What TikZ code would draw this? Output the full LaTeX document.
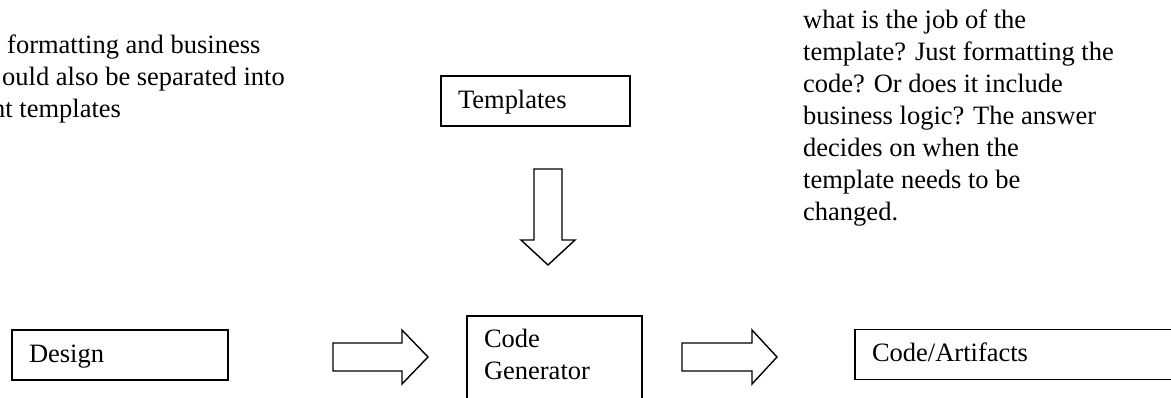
\documentclass[tikz,border=0pt]{standalone}
\usepackage{fontspec}
\setmainfont{Liberation Serif}
\begin{document}
\begin{tikzpicture}[x=1pt,y=-1pt,
  every node/.style={font=\fontsize{26.5pt}{32pt}\selectfont},
  box/.style={draw, line width=1.8pt, rectangle, inner xsep=17pt, inner ysep=0pt,
    align=left, text height=23pt, text depth=8pt, minimum height=50pt},
  note/.style={inner sep=0pt, align=left},
  blockarrow/.style={draw, line width=1.4pt, fill=white, line join=miter}
]
\useasboundingbox (0,0) rectangle (1171,398);
\clip (0,0) rectangle (1171,398);

% process boxes
\node[box, text width=182pt] (design) at (120,355) {Design};
\node[box, text width=155pt] (templates) at (535.5,101) {Templates};
\node[box, text width=141pt, text height=32pt, text depth=72pt] (codegen) at (554.5,368) {Code\\Generator};
\node[box, text width=296pt] (artifacts) at (1020,354.5) {Code/Artifacts};

% comments
\node[note, anchor=base west] (notea) at (7,54) {formatting and business};
\node[note, anchor=base west] (noteb) at (2,86) {ould also be separated into};
\node[note, anchor=base west] (notec) at (-8,118) {nt templates};
\node[note, anchor=north west] (noteright) at (803,10) {what is the job of the\\template? Just formatting the\\code? Or does it include\\business logic? The answer\\decides on when the\\template needs to be\\changed.};

% block arrows
\coordinate (arrA) at (333,357);
\coordinate (arrB) at (682,357);
\coordinate (arrC) at (548,169);
\draw[blockarrow] (arrA) ++(0,-14) -- ++(69,0) -- ++(0,-13) -- ++(26,27)
  -- ++(-26,27) -- ++(0,-13) -- ++(-69,0) -- cycle;
\draw[blockarrow] (arrB) ++(0,-14) -- ++(70,0) -- ++(0,-13) -- ++(25,27)
  -- ++(-25,27) -- ++(0,-13) -- ++(-70,0) -- cycle;
\draw[blockarrow] (arrC) ++(-14,0) -- ++(0,71) -- ++(-13,0) -- ++(27,25)
  -- ++(27,-25) -- ++(-13,0) -- ++(0,-71) -- cycle;
\end{tikzpicture}
\end{document}
